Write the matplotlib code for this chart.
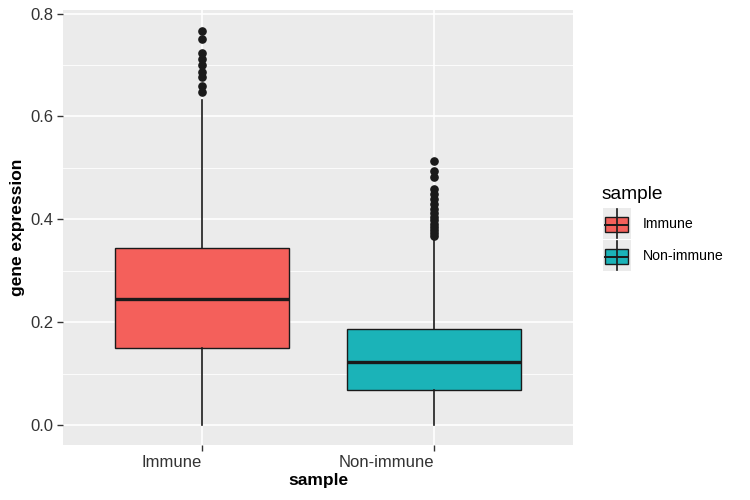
import matplotlib.pyplot as plt
from matplotlib.patches import Rectangle
from matplotlib.lines import Line2D

plt.rcParams['font.family'] = ['Liberation Sans', 'DejaVu Sans']

categories = ['Immune', 'Non-immune']
colors = ['#F4605B', '#1BB3B8']
q1 = [0.150, 0.068]
median = [0.246, 0.122]
q3 = [0.344, 0.187]
whisker_low = [0.0, 0.0]
whisker_high = [0.632, 0.363]
outliers = [
    [0.648, 0.660, 0.676, 0.687, 0.700, 0.712, 0.724, 0.750, 0.767],
    [0.367, 0.373, 0.380, 0.386, 0.392, 0.398, 0.404, 0.412, 0.420,
     0.430, 0.440, 0.450, 0.460, 0.482, 0.495, 0.513],
]
y_ticks = [0.0, 0.2, 0.4, 0.6, 0.8]

fig = plt.figure(figsize=(7.5, 5), dpi=100)
ax = fig.add_axes([63 / 750, 1 - 445 / 500, 510 / 750, 435 / 500])
ax.set_facecolor('#EBEBEB')

stats = []
for i, name in enumerate(categories):
    stats.append(dict(label=name, q1=q1[i], med=median[i], q3=q3[i],
                      whislo=whisker_low[i], whishi=whisker_high[i],
                      fliers=outliers[i]))

bp = ax.bxp(stats, positions=[1, 2], widths=0.75, patch_artist=True,
            showcaps=False,
            boxprops=dict(edgecolor='#1A1A1A', linewidth=1.0),
            medianprops=dict(color='#1A1A1A', linewidth=2.4),
            whiskerprops=dict(color='#1A1A1A', linewidth=1.2),
            flierprops=dict(marker='o', markerfacecolor='#1A1A1A',
                            markeredgecolor='#1A1A1A', markersize=5.2))
for patch, c in zip(bp['boxes'], colors):
    patch.set_facecolor(c)
for w in bp['whiskers'] + bp['boxes'] + bp['medians'] + bp['fliers']:
    w.set_zorder(3)

ax.set_xlim(0.4, 2.6)
ax.set_ylim(-0.0385, 0.807)
ax.set_yticks(y_ticks)
ax.set_yticklabels([f'{v:.1f}' for v in y_ticks])
ax.set_yticks([0.1, 0.3, 0.5, 0.7], minor=True)
ax.set_xticks([1, 2])
ax.set_xticklabels(categories, ha='right')

ax.grid(which='major', color='white', linewidth=1.2, zorder=0)
ax.grid(which='minor', axis='y', color='white', linewidth=0.6, zorder=0)
ax.set_axisbelow(True)
for s in ax.spines.values():
    s.set_visible(False)
ax.tick_params(which='major', length=4, width=1, color='#333333',
               labelsize=12, labelcolor='#333333', pad=3)
ax.tick_params(which='minor', length=0)

ax.set_xlabel('sample', fontsize=12.5, fontweight='bold', labelpad=2)
ax.set_ylabel('gene expression', fontsize=12.5, fontweight='bold', labelpad=4)

# legend drawn by hand in ggplot style
fig.text(602 / 750, 1 - 199 / 500, 'sample', fontsize=13.8, va='baseline')
lax = fig.add_axes([0, 0, 1, 1], facecolor='none')
lax.set_xlim(0, 750)
lax.set_ylim(500, 0)
lax.axis('off')
for i, (name, c) in enumerate(zip(categories, colors)):
    top = 208 + i * 32
    lax.add_patch(Rectangle((603, top), 28, 31, facecolor='#EBEBEB',
                            edgecolor='none'))
    lax.add_line(Line2D([617, 617], [top + 1, top + 30], color='#1A1A1A',
                        linewidth=1.2))
    lax.add_patch(Rectangle((605, top + 9), 23, 15, facecolor=c,
                            edgecolor='#1A1A1A', linewidth=1.0))
    lax.add_line(Line2D([605, 628], [top + 16.5, top + 16.5],
                        color='#1A1A1A', linewidth=1.4))
    lax.text(643, top + 16, name, fontsize=10.2, va='center', color='black')

fig.savefig('out.png', dpi=100)
